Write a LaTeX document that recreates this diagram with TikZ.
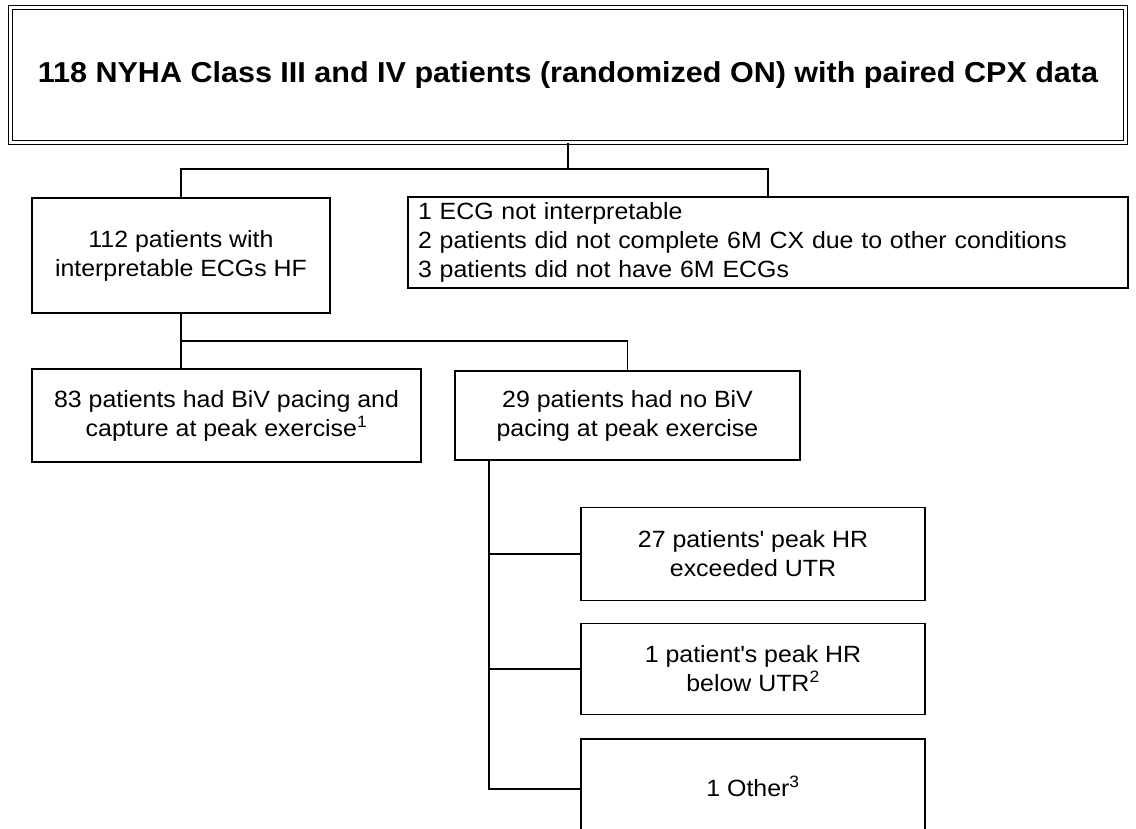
\documentclass[tikz,border=0pt]{standalone}
\usepackage{fontspec}
\setmainfont{Liberation Sans}[FakeStretch=1.06]
\begin{document}
\begin{tikzpicture}[x=1pt,y=-1pt,
	box/.style={draw,line width=1.5pt,inner sep=0pt,align=center,
		font=\fontsize{23.5}{29}\selectfont},
	headbox/.style={draw,double,double distance=3.5pt,line width=1.1pt,inner sep=0pt,
		font=\fontsize{28.8}{32}\selectfont\bfseries},
	link/.style={line width=1.5pt}]
	\useasboundingbox (0,0) rectangle (1136,829);

	\node[headbox,minimum width=1115pt,minimum height=135pt] (head) at (568,75)
		{118 NYHA Class III and IV patients (randomized ON) with paired CPX data};

	\node[box,minimum width=298pt,minimum height=115pt] (ecgok) at (181,255.5)
		{112 patients with\\interpretable ECGs HF};
	\node[box,minimum height=91pt,text width=700pt,inner xsep=10pt,align=left] (excl) at (768,242.5)
		{1 ECG not interpretable\\2 patients did not complete 6M CX due to other conditions\\3 patients did not have 6M ECGs};

	\node[box,minimum width=389pt,minimum height=93pt] (biv) at (226.5,415.5)
		{83 patients had BiV pacing and\\capture at peak exercise\textsuperscript{1}};
	\node[box,minimum width=345pt,minimum height=89pt] (nobiv) at (627.5,415.5)
		{29 patients had no BiV\\pacing at peak exercise};

	\node[box,minimum width=344pt,minimum height=93pt] (hrover) at (753,554)
		{27 patients\textquotesingle{} peak HR\\exceeded UTR};
	\node[box,minimum width=344pt,minimum height=91pt] (hrbelow) at (753,669)
		{1 patient\textquotesingle s peak HR\\below UTR\textsuperscript{2}};
	\node[box,minimum width=344pt,minimum height=100pt] (other) at (753,789)
		{\raisebox{5pt}{1 Other\textsuperscript{3}}};

	\coordinate (split) at (568,169);
	\coordinate (fork) at (181,341);
	\coordinate (trunk) at (489,460);

	\draw[link] (head.south) -- (split);
	\draw[link] (split) -| (ecgok.north);
	\draw[link] (split) -| (excl.north);

	\draw[link] (ecgok.south) -- (ecgok.south |- biv.north);
	\draw[link] (fork) -| (nobiv.north);

	\draw[link] (trunk) |- (hrover.west);
	\draw[link] (trunk) |- (hrbelow.west);
	\draw[link] (trunk) |- (other.west);
\end{tikzpicture}
\end{document}
